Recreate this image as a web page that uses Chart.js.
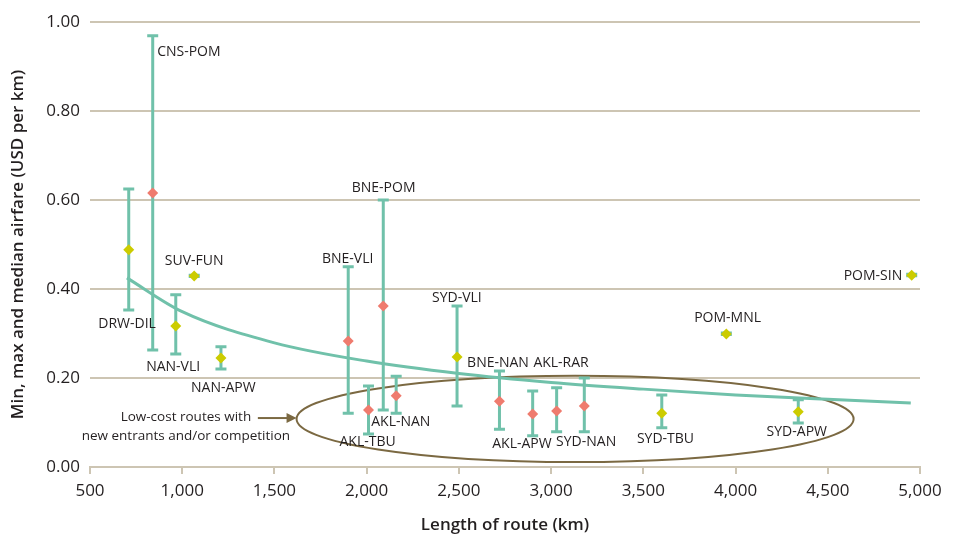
<!DOCTYPE html>
<html>
<head>
<meta charset="utf-8">
<script src="https://cdn.jsdelivr.net/npm/chart.js@4.4.1/dist/chart.umd.min.js"></script>
<style>body{margin:0;background:#fff}</style>
</head>
<body>
<canvas id="myChart" width="969" height="538"></canvas>
<script>
// route data (km, USD per km)
const routes = ['DRW-DIL','CNS-POM','NAN-VLI','SUV-FUN','NAN-APW','BNE-VLI','AKL-TBU','BNE-POM','AKL-NAN',
  'SYD-VLI','BNE-NAN','AKL-APW','AKL-RAR','SYD-NAN','SYD-TBU','POM-MNL','SYD-APW','POM-SIN'];
const distance = [710, 840, 965, 1065, 1210, 1900, 2010, 2090, 2160, 2490, 2720, 2900, 3030, 3180, 3600, 3950, 4340, 4955];
const minFare = [0.353, 0.263, 0.254, 0.428, 0.220, 0.121, 0.074, 0.128, 0.121, 0.137, 0.085, 0.070, 0.079, 0.079, 0.088, 0.298, 0.099, 0.430];
const maxFare = [0.625, 0.969, 0.387, 0.431, 0.270, 0.450, 0.182, 0.600, 0.204, 0.362, 0.216, 0.171, 0.178, 0.200, 0.162, 0.301, 0.151, 0.433];
const medianFare = [0.488, 0.616, 0.317, 0.429, 0.245, 0.283, 0.128, 0.362, 0.160, 0.247, 0.148, 0.119, 0.126, 0.137, 0.121, 0.299, 0.124, 0.431];
// 1 = red marker, 0 = yellow marker
const redMarker = [0, 1, 0, 0, 0, 1, 1, 1, 1, 0, 1, 1, 1, 1, 0, 0, 0, 0];

// trend curve, read at a few distances
const trendX = [700, 1000, 1500, 2000, 2500, 3000, 3500, 4000, 4500, 4950];
const trendY = [0.425, 0.349, 0.279, 0.238, 0.210, 0.190, 0.175, 0.162, 0.152, 0.144];

// axis ticks
const xTicks = [500, 1000, 1500, 2000, 2500, 3000, 3500, 4000, 4500, 5000];
const yTicks = [0, 0.2, 0.4, 0.6, 0.8, 1.0];

// label anchors in data units: [text, x, y, align]
const routeLabels = [
  ['CNS-POM', 864, 0.933, 'left'],
  ['DRW-DIL', 701, 0.321, 'center'],
  ['SUV-FUN', 1065, 0.463, 'center'],
  ['NAN-VLI', 951, 0.225, 'center'],
  ['NAN-APW', 1223, 0.178, 'center'],
  ['BNE-VLI', 1897, 0.467, 'center'],
  ['BNE-POM', 2092, 0.627, 'center'],
  ['SYD-VLI', 2489, 0.380, 'center'],
  ['BNE-NAN', 2712, 0.234, 'center'],
  ['AKL-RAR', 3054, 0.234, 'center'],
  ['AKL-NAN', 2185, 0.101, 'center'],
  ['AKL-TBU', 2005, 0.056, 'center'],
  ['AKL-APW', 2842, 0.052, 'center'],
  ['SYD-NAN', 3190, 0.056, 'center'],
  ['SYD-TBU', 3620, 0.063, 'center'],
  ['SYD-APW', 4332, 0.079, 'center'],
  ['POM-MNL', 3957, 0.335, 'center'],
  ['POM-SIN', 4745, 0.429, 'center']
];

const TEAL = '#70c1aa';
const RED = '#ef7b6e';
const YELLOW = '#cccc00';
const GRID = '#cdc5b3';
const BROWN = '#7b6942';
const FONT = "'Open Sans', sans-serif";

let medianPoints = [];
for (let i = 0; i < routes.length; i++) {
  medianPoints.push({x: distance[i], y: medianFare[i]});
}
let trendPoints = [];
for (let i = 0; i < trendX.length; i++) {
  trendPoints.push({x: trendX[i], y: trendY[i]});
}

const extras = {
  id: 'extras',
  beforeDatasetsDraw(chart) {
    const {ctx, scales: {x, y}} = chart;
    // ellipse round the low-cost routes
    let cx = x.getPixelForValue(3130), cy = y.getPixelForValue(0.108);
    let rx = x.getPixelForValue(3130 + 1510) - cx;
    let ry = cy - y.getPixelForValue(0.108 + 0.097);
    ctx.save();
    ctx.strokeStyle = BROWN;
    ctx.lineWidth = 2;
    ctx.beginPath();
    ctx.ellipse(cx, cy, rx, ry, 0, 0, Math.PI * 2);
    ctx.stroke();
    ctx.restore();
  },
  afterDatasetDraw(chart, args) {
    if (args.index !== 0) return;
    // min-max bars, drawn after the trend line and before the medians
    const {ctx, scales: {x, y}} = chart;
    ctx.save();
    ctx.strokeStyle = TEAL;
    ctx.lineWidth = 3;
    for (let i = 0; i < routes.length; i++) {
      let px = x.getPixelForValue(distance[i]);
      let top = y.getPixelForValue(maxFare[i]);
      let bot = y.getPixelForValue(minFare[i]);
      ctx.beginPath();
      ctx.moveTo(px, top); ctx.lineTo(px, bot);
      ctx.moveTo(px - 5.5, top); ctx.lineTo(px + 5.5, top);
      ctx.moveTo(px - 5.5, bot); ctx.lineTo(px + 5.5, bot);
      ctx.stroke();
    }
    ctx.restore();
  },
  afterDraw(chart) {
    const {ctx, scales: {x, y}} = chart;
    ctx.save();
    ctx.fillStyle = '#231f20';
    ctx.font = '14px ' + FONT;
    ctx.textBaseline = 'middle';
    routeLabels.forEach(l => {
      ctx.textAlign = l[3];
      ctx.fillText(l[0], x.getPixelForValue(l[1]), y.getPixelForValue(l[2]));
    });
    // note and arrow
    ctx.font = '13.5px ' + FONT;
    ctx.textAlign = 'center';
    ctx.fillText('Low-cost routes with', x.getPixelForValue(1020), y.getPixelForValue(0.112));
    ctx.fillText('new entrants and/or competition', x.getPixelForValue(1020), y.getPixelForValue(0.069));
    let ax0 = x.getPixelForValue(1410), ax1 = x.getPixelForValue(1620), ay = y.getPixelForValue(0.110);
    ctx.strokeStyle = BROWN;
    ctx.fillStyle = BROWN;
    ctx.lineWidth = 2;
    ctx.beginPath();
    ctx.moveTo(ax0, ay); ctx.lineTo(ax1 - 8, ay);
    ctx.stroke();
    ctx.beginPath();
    ctx.moveTo(ax1, ay); ctx.lineTo(ax1 - 10, ay - 5); ctx.lineTo(ax1 - 10, ay + 5);
    ctx.closePath();
    ctx.fill();
    ctx.restore();
  }
};

let ctx = document.getElementById('myChart').getContext('2d');
let myChart = new Chart(ctx, {
  type: 'scatter',
  data: {
    datasets: [{
      type: 'line',
      label: 'Trend',
      data: trendPoints,
      borderColor: TEAL,
      borderWidth: 3,
      pointRadius: 0,
      cubicInterpolationMode: 'monotone',
      order: 1
    }, {
      label: 'Median',
      data: medianPoints,
      pointStyle: 'rectRot',
      pointRadius: 5.5,
      borderWidth: 0,
      backgroundColor: redMarker.map(r => r ? RED : YELLOW),
      order: 0
    }]
  },
  options: {
    responsive: false,
    animation: false,
    layout: {padding: {top: 22, right: 49, bottom: 0, left: 0}},
    plugins: {legend: {display: false}, tooltip: {enabled: false}},
    scales: {
      x: {
        type: 'linear',
        min: 500, max: 5000,
        afterBuildTicks: s => { s.ticks = xTicks.map(v => ({value: v})); },
        afterFit: s => { s.height = 71; },
        ticks: {
          color: '#231f20', padding: 7,
          font: {family: FONT, size: 17},
          callback: v => v.toLocaleString('en-US')
        },
        grid: {drawOnChartArea: false, drawTicks: true, tickLength: 7, color: GRID, lineWidth: 2},
        border: {color: GRID, width: 2},
        title: {display: true, text: 'Length of route (km)', color: '#231f20',
          font: {family: FONT, size: 17, weight: '600'}, padding: {top: 0, bottom: 3}}
      },
      y: {
        min: 0, max: 1,
        afterBuildTicks: s => { s.ticks = yTicks.map(v => ({value: v})); },
        afterFit: s => { s.width = 90; },
        ticks: {
          color: '#231f20', padding: 10,
          font: {family: FONT, size: 17},
          callback: v => v.toFixed(2)
        },
        grid: {color: GRID, lineWidth: 2, drawTicks: false},
        border: {display: false},
        title: {display: true, text: 'Min, max and median airfare (USD per km)', color: '#231f20',
          font: {family: FONT, size: 17, weight: '600'}, padding: {top: 8, bottom: 0}}
      }
    }
  },
  plugins: [extras]
});
</script>
</body>
</html>
